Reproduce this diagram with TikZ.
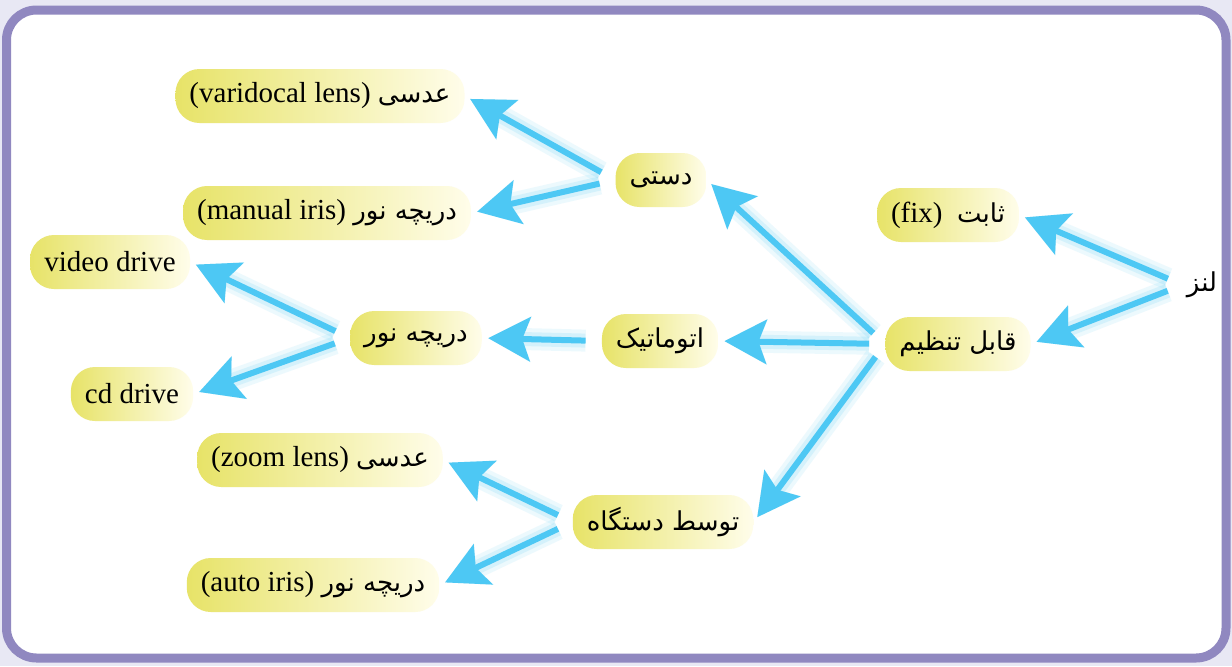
\documentclass[tikz,border=0pt]{standalone}
\usepackage{fontspec}
\setmainfont{Liberation Serif}
\newfontfamily\fa[Script=Arabic]{DejaVu Sans}
\TeXXeTstate=1
\usetikzlibrary{arrows.meta}
\definecolor{framebg}{RGB}{232,232,244}
\definecolor{frameline}{RGB}{144,136,192}
\definecolor{linkblue}{RGB}{77,200,244}
\definecolor{boxleft}{RGB}{231,227,104}
\definecolor{boxright}{RGB}{255,253,234}
\newcommand\fatxt[1]{{\fa\fontsize{13}{15}\selectfont\beginR #1\endR}}

\begin{document}
\begin{tikzpicture}[
  x=0.5pt,y=-0.5pt,
  box/.style={rounded corners=12pt,left color=boxleft,right color=boxright,
    minimum height=27pt,inner xsep=7pt,font=\fontsize{14.5}{16}\selectfont},
  plain/.style={inner sep=2pt,font=\fontsize{14}{16}\selectfont},
  link/.style={draw=linkblue,line width=3pt,shorten <=8pt,shorten >=3pt,
    -{Stealth[length=21pt,width=22pt,inset=4pt]},
    preaction={draw=linkblue,opacity=.10,line width=11pt},
    preaction={draw=linkblue,opacity=.15,line width=7pt}}
  ]
\useasboundingbox (0,0) rectangle (1232,666);
\fill[framebg] (0,0) rectangle (1232,666);
\draw[frameline,fill=white,line width=4.5pt,rounded corners=15pt] (6.5,10) rectangle (1226,658);
% right side
\node[plain] (L) at (1202,285) {\fatxt{لنز}};                           % root
\node[box] (F) at (948,215) {(fix)\ \ \fatxt{ثابت}};
\node[box] (T) at (958,344) {\fatxt{قابل تنظیم}};
% middle
\node[box] (D) at (661,180) {\fatxt{دستی}};
\node[box] (A) at (660,341) {\fatxt{اتوماتیک}};
\node[box] (G) at (663,522) {\fatxt{توسط دستگاه}};
\node[box] (I) at (416,338) {\fatxt{دریچه نور}};
% left side
\node[box] (V) at (320,96) {(varidocal lens) \fatxt{عدسی}};
\node[box] (M) at (327,213) {(manual iris) \fatxt{دریچه نور}};
\node[box,minimum width=80pt] (VD) at (110,262) {video drive};
\node[box] (CD) at (132,394) {cd drive};
\node[box] (Z) at (320,460) {(zoom lens) \fatxt{عدسی}};
\node[box] (AI) at (313,585) {(auto iris) \fatxt{دریچه نور}};
% links
\draw[link] (L.west) -- (F.east);
\draw[link] (L.west) -- (T.east);
\draw[link] (T.west) -- (D.east);
\draw[link] (T.west) -- (A.east);
\draw[link] (T.west) -- (G.east);
\draw[link] (D.west) -- (V.east);
\draw[link] (D.west) -- (M.east);
\draw[link] (A.west) -- (I.east);
\draw[link] (I.west) -- (VD.east);
\draw[link] (I.west) -- (CD.east);
\draw[link] (G.west) -- (Z.east);
\draw[link] (G.west) -- (AI.east);
\end{tikzpicture}
\end{document}
